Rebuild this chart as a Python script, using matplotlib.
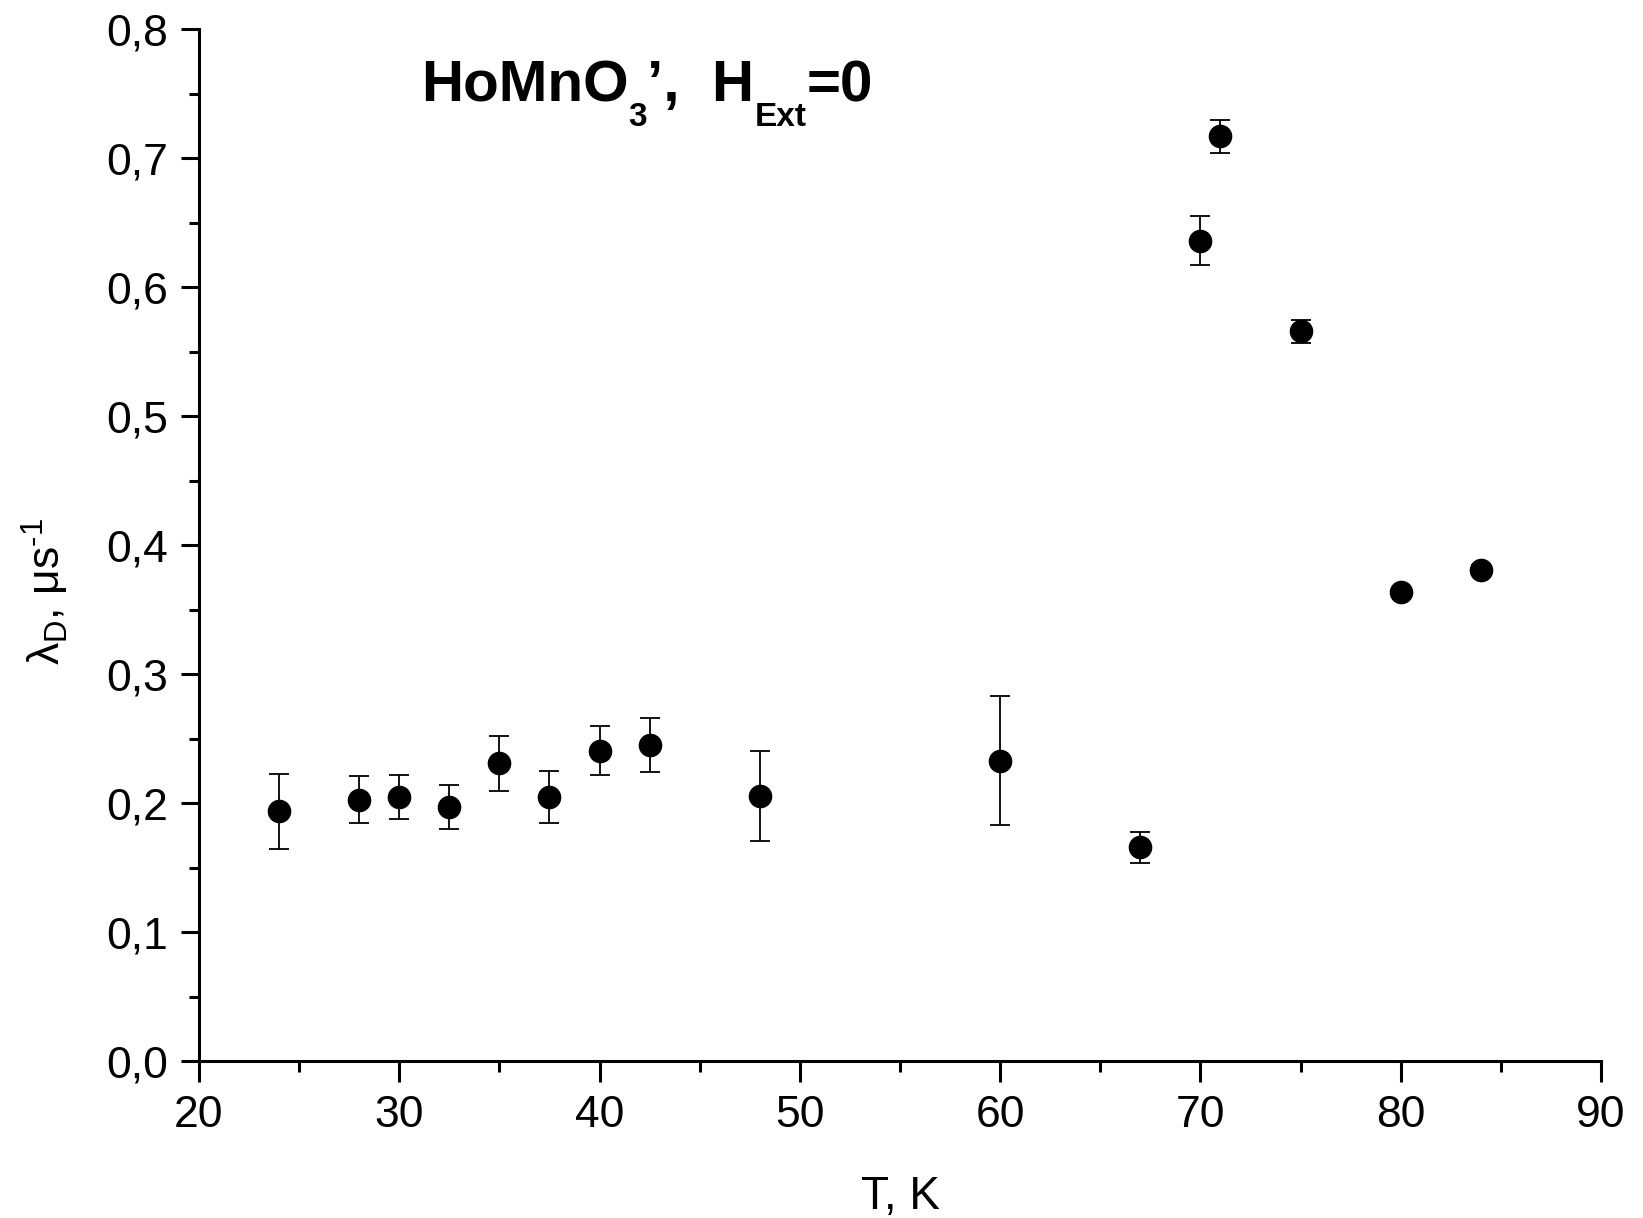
import matplotlib
matplotlib.use("Agg")
import matplotlib.pyplot as plt
from matplotlib.ticker import MultipleLocator, FuncFormatter

plt.rcParams['font.family'] = ['Liberation Sans', 'DejaVu Sans']
plt.rcParams['mathtext.fontset'] = 'custom'
plt.rcParams['mathtext.rm'] = 'Liberation Sans'
plt.rcParams['mathtext.it'] = 'Liberation Sans'
plt.rcParams['mathtext.bf'] = 'Liberation Sans:bold'
plt.rcParams['mathtext.sf'] = 'Liberation Sans'

# Data
T = [24, 28, 30, 32.5, 35, 37.5, 40, 42.5, 48, 60, 67, 70, 71, 75, 80, 84]
lam = [0.194, 0.203, 0.205, 0.197, 0.231, 0.205, 0.241, 0.245, 0.206, 0.233,
       0.166, 0.636, 0.717, 0.566, 0.364, 0.381]
err = [0.029, 0.018, 0.017, 0.017, 0.021, 0.020, 0.019, 0.021, 0.035, 0.050,
       0.012, 0.019, 0.013, 0.009, 0.003, 0.004]

W, H = 1643, 1218
fig = plt.figure(figsize=(W / 100, H / 100), dpi=100)
ax = fig.add_axes([0.1211, 0.1285, 0.8533, 0.8474])

ax.errorbar(T, lam, yerr=err, fmt='o', color='black', markersize=16,
            ecolor='black', elinewidth=1.3, capsize=7, capthick=1.3)

ax.set_xlim(20, 90)
ax.set_ylim(0, 0.8)
ax.xaxis.set_major_locator(MultipleLocator(10))
ax.xaxis.set_minor_locator(MultipleLocator(5))
ax.yaxis.set_major_locator(MultipleLocator(0.1))
ax.yaxis.set_minor_locator(MultipleLocator(0.05))
ax.yaxis.set_major_formatter(FuncFormatter(lambda v, p: f"{v:.1f}".replace('.', ',')))

for s in ['top', 'right']:
    ax.spines[s].set_visible(False)
for s in ['left', 'bottom']:
    ax.spines[s].set_linewidth(2.2)

ax.tick_params(axis='x', which='major', direction='out', length=15, width=2.2, labelsize=32, pad=9)
ax.tick_params(axis='x', which='minor', direction='out', length=8, width=2.2)
ax.tick_params(axis='y', which='major', direction='out', length=13, width=2.2, labelsize=32, pad=9)
ax.tick_params(axis='y', which='minor', direction='out', length=7, width=2.2)

ax.set_xlabel('T, K', fontsize=33, labelpad=28)
ax.set_ylabel(r'$\lambda_{\mathrm{D}}$, μs$^{\mathrm{‐1}}$', fontsize=32, labelpad=20)
ax.yaxis.set_label_coords(-0.091, 0.455)

# Title drawn piecewise (Origin-style large, low subscripts)
renderer = fig.canvas.get_renderer()
x = 421.0
base = H - 101.0
segments = [("HoMnO", 42, 0), ("3", 24, -25), ("’,  H", 42, 0), ("Ext", 24, -25), ("=0", 42, 0)]
for txt, size, dy in segments:
    t = fig.text(x / W, (base + dy) / H, txt, fontsize=size, fontweight='bold',
                 ha='left', va='baseline')
    x += t.get_window_extent(renderer).width

fig.savefig('out.png', dpi=100)
